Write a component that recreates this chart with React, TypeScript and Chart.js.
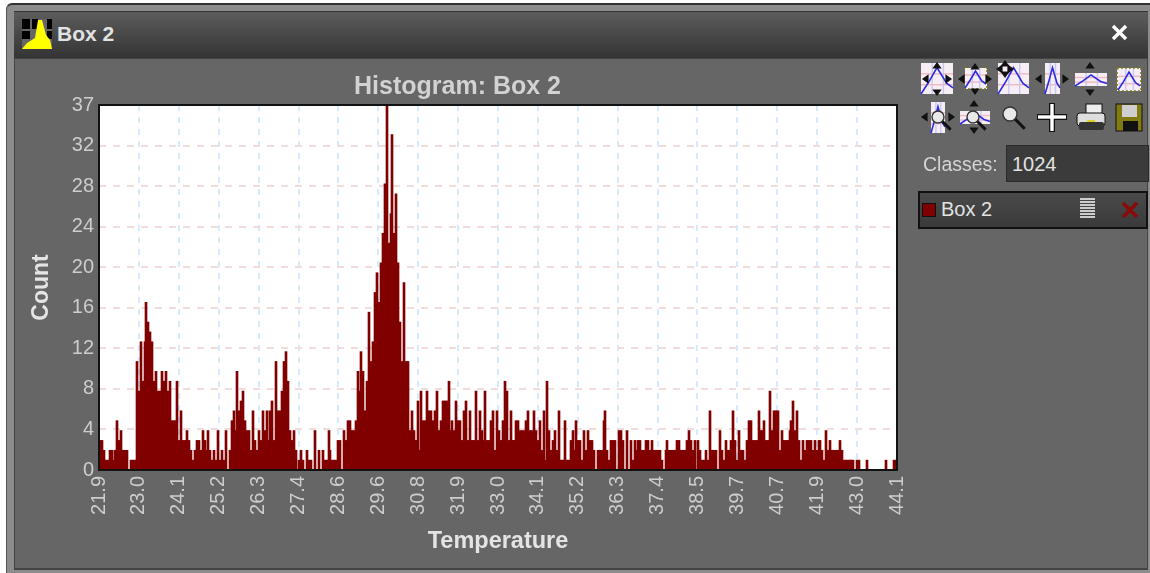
import React, { useEffect, useRef } from "react";
import { Chart, registerables } from "chart.js";

Chart.register(...registerables);

const title = "Histogram: Box 2";
const xTitle = "Temperature";
const yTitle = "Count";
const tempMin = 21.9;
const tempMax = 44.1;
const countMax = 37;
const xTickLabels = ["21.9","23.0","24.1","25.2","26.3","27.4","28.6","29.6","30.8","31.9","33.0","34.1","35.2","36.3","37.4","38.5","39.7","40.7","41.9","43.0","44.1"];
const yTickLabels = ["0","4","8","12","16","20","24","28","32","37"];

const countsLow = [3,3,2,1,1,2,2,1,2,5,3,4,2,2,2,0,1,1,1,11,8,13,9,13,17,15,14,13,9,10,8,8,10,9,10,8,9,5,5,5,9,3,6,3,3,4,3,2,1,2,3,3,2,4,3,2,4,2,1,2,1,4,1,2,1,4,0,2,5,6,4,10,6,7,8,5,4,4,2,6,3,2,4,3,6,4,6,3,6,7,3,11,6,6,8,11,12,9,4,3,4,2,0,1,2,1,0,2,1,1,0,4,0,2,0,2,1,1,4,2,1,1,1,3,3,0,4,3,5,5,4,4,5,10,8,12,10];
const countsPeak = [6,9,16,11,13,18,20,17,21,24,29,37,23,26,34,24,28,21,15,11,19,11,11,4,6,4,3,7,2,8,5,5,8,6,6,5,6,8,4,5,7,7,7,9,4,5,4,7,5,5,3,6,7,3,6,3,3,8,3,6,4,3,8,3,3,5,6,2,6,4,3,5,9,8,3,6,3,3,5,5,4,4,4,5,6,4,4,6,4,3,5,2,6,1,9,4,2,3,4,2,6,1,1,5,1,1,3,4,2,5,3,3,1,4,2,4,3,3,2,0,2,2,2,5,6,2,1,3,3,3,0,4];
const countsHigh = [4,3,0,4,0,3,1,3,2,3,3,2,2,3,3,2,3,2,2,2,2,1,0,2,3,2,2,2,2,3,3,2,2,2,3,4,3,2,3,0,3,2,1,1,2,1,6,2,2,2,0,4,2,1,3,2,2,3,6,3,1,4,2,2,1,3,5,5,3,3,3,6,4,4,5,3,3,8,4,6,6,6,2,4,3,3,3,4,5,7,4,6,3,1,3,2,3,3,3,2,3,2,3,3,2,1,4,2,3,2,2,2,2,3,2,1,1,1,1,1,1,0,1,1,0,0,0,1,0,0,0,0,0,0,0,0,0,1,0,0,0,1,1];
const counts = [...countsLow, ...countsPeak, ...countsHigh];

const gridBlue = "#d6e9fd";
const gridPink = "#f0dcdc";
const barRed = "#800000";
const tickGrey = "#cdcdcd";

const framePlugin = {
  id: "frame",
  beforeDraw(c: any) {
    const a = c.chartArea;
    c.ctx.save();
    c.ctx.fillStyle = "#ffffff";
    c.ctx.fillRect(a.left, a.top, a.width, a.height);
    c.ctx.restore();
  },
  beforeDatasetsDraw(c: any) {
    // Snap each bar the scale placed to whole pixels, so neighbours join without seams.
    c.getDatasetMeta(0).data.forEach((el: any) => {
      el.x = Math.round(el.x);
      el.width = 2;
    });
  },
  afterDraw(c: any) {
    const a = c.chartArea;
    c.ctx.save();
    c.ctx.strokeStyle = "#111111";
    c.ctx.lineWidth = 2;
    c.ctx.strokeRect(a.left, a.top, a.width, a.height);
    c.ctx.restore();
  },
};

function HistogramChart() {
  const ref = useRef<HTMLCanvasElement | null>(null);
  useEffect(() => {
    const binW = (tempMax - tempMin) / counts.length;
    const points = counts.map((y, i) => ({ x: tempMin + (i + 0.5) * binW, y }));
    const chart = new Chart(ref.current as HTMLCanvasElement, {
      type: "bar",
      data: {
        datasets: [{
          label: "Box 2",
          data: points,
          backgroundColor: barRed,
          borderWidth: 0,
          barPercentage: 1,
          categoryPercentage: 1,
        }],
      },
      options: {
        animation: false,
        responsive: false,
        parsing: { xAxisKey: "x", yAxisKey: "y" },
        layout: { padding: { left: 0, right: 83, top: 0, bottom: 0 } },
        plugins: {
          legend: { display: false },
          tooltip: { enabled: false },
          title: {
            display: true,
            text: title,
            color: "#d2d2d2",
            font: { family: "Liberation Sans", size: 25, weight: "bold" },
            padding: { top: 2, bottom: 3 },
          },
        },
        scales: {
          x: {
            type: "linear",
            offset: false,
            min: tempMin,
            max: tempMax,
            afterBuildTicks: (s: any) => {
              s.ticks = xTickLabels.map((_, i) => ({ value: tempMin + (i * (tempMax - tempMin)) / (xTickLabels.length - 1) }));
            },
            afterFit: (s: any) => { s.height = 90; s.paddingRight = 0; s.paddingLeft = 0; },
            grid: { offset: false, color: gridBlue, lineWidth: 2, drawTicks: false },
            border: { display: false, dash: [6, 6] },
            ticks: {
              autoSkip: false,
              minRotation: 90,
              maxRotation: 90,
              color: tickGrey,
              padding: 6,
              font: { family: "Liberation Sans", size: 20 },
              callback: (_v: any, i: number) => xTickLabels[i],
            },
            title: {
              display: true,
              text: xTitle,
              color: "#e4e4e4",
              font: { family: "Liberation Sans", size: 23.5, weight: "bold" },
              padding: { top: 0, bottom: 4 },
            },
          },
          y: {
            type: "linear",
            min: 0,
            max: countMax,
            afterBuildTicks: (s: any) => {
              s.ticks = yTickLabels.map((_, i) => ({ value: (i * countMax) / (yTickLabels.length - 1) }));
            },
            afterFit: (s: any) => { s.width = 81; },
            grid: { color: gridPink, lineWidth: 2, drawTicks: false },
            border: { display: false, dash: [7, 7] },
            ticks: {
              autoSkip: false,
              color: tickGrey,
              padding: 5,
              font: { family: "Liberation Sans", size: 20 },
              callback: (_v: any, i: number) => yTickLabels[i],
            },
            title: {
              display: true,
              text: yTitle,
              color: "#e4e4e4",
              font: { family: "Liberation Sans", size: 23, weight: "bold" },
              padding: { top: 10, bottom: 0 },
            },
          },
        },
      },
      plugins: [framePlugin],
    } as any);
    return () => chart.destroy();
  }, []);
  return <canvas ref={ref} width={962} height={490} style={{ position: "absolute", left: 18, top: 70, display: "block" }} />;
}

function MiniPlot({ x, y, w, h }: { x: number; y: number; w: number; h: number }) {
  return (
    <g>
      <rect x={x} y={y} width={w} height={h} fill="#f6eef4" />
      <line x1={x} x2={x + w} y1={y + h * 0.35} y2={y + h * 0.35} stroke="#f0b8c0" strokeWidth="1.4" />
      <line x1={x} x2={x + w} y1={y + h * 0.7} y2={y + h * 0.7} stroke="#f0b8c0" strokeWidth="1.4" />
      <line x1={x + w * 0.35} x2={x + w * 0.35} y1={y} y2={y + h} stroke="#c8c8f4" strokeWidth="1.4" />
      <line x1={x + w * 0.7} x2={x + w * 0.7} y1={y} y2={y + h} stroke="#c8c8f4" strokeWidth="1.4" />
      <polyline points={`${x},${y + h} ${x + w * 0.25},${y + h * 0.6} ${x + w * 0.5},${y + h * 0.15} ${x + w * 0.8},${y + h * 0.65} ${x + w},${y + h * 0.8}`} fill="none" stroke="#2a2ae0" strokeWidth="1.6" />
    </g>
  );
}

function Arrows({ cx, cy, rx, ry }: { cx: number; cy: number; rx: number; ry: number }) {
  return (
    <g stroke="#111" fill="#111" strokeWidth="1.2">
      {rx > 0 && <polygon points={`${cx - rx - 2},${cy} ${cx - rx + 3},${cy - 3.5} ${cx - rx + 3},${cy + 3.5}`} />}
      {rx > 0 && <polygon points={`${cx + rx + 2},${cy} ${cx + rx - 3},${cy - 3.5} ${cx + rx - 3},${cy + 3.5}`} />}
      {ry > 0 && <polygon points={`${cx},${cy - ry - 2} ${cx - 3.5},${cy - ry + 3} ${cx + 3.5},${cy - ry + 3}`} />}
      {ry > 0 && <polygon points={`${cx},${cy + ry + 2} ${cx - 3.5},${cy + ry - 3} ${cx + 3.5},${cy + ry - 3}`} />}
    </g>
  );
}

function Lens({ cx, cy, r }: { cx: number; cy: number; r: number }) {
  return (
    <g>
      <line x1={cx + r * 0.7} y1={cy + r * 0.7} x2={cx + r * 2.1} y2={cy + r * 2.1} stroke="#111" strokeWidth="3" />
      <circle cx={cx} cy={cy} r={r} fill="#e8e8e8" stroke="#333" strokeWidth="1.4" />
    </g>
  );
}

function Toolbar() {
  return (
    <svg width={240} height={90} style={{ position: "absolute", left: 910, top: 55 }}>
      <MiniPlot x={11} y={8} w={32} h={31} />
      <Arrows cx={27} cy={24} rx={12} ry={0} />
      <Arrows cx={27} cy={24} rx={0} ry={14} />
      <rect x={55} y={13} width={22} height={21} fill="#f6eef4" stroke="#7a7a20" strokeWidth="1.6" strokeDasharray="2 2" />
      <MiniPlot x={55} y={13} w={21} h={20} />
      <Arrows cx={65} cy={24} rx={14} ry={13} />
      <MiniPlot x={88} y={8} w={31} h={31} />
      <Arrows cx={95} cy={14} rx={6} ry={6} />
      <MiniPlot x={135} y={8} w={15} h={31} />
      <Arrows cx={142} cy={24} rx={14} ry={0} />
      <MiniPlot x={165} y={18} w={32} h={13} />
      <Arrows cx={180} cy={24} rx={0} ry={14} />
      <rect x={207} y={13} width={24} height={23} fill="#f6eef4" stroke="#7a7a20" strokeWidth="1.6" strokeDasharray="2 2" />
      <MiniPlot x={208} y={14} w={22} h={21} />

      <MiniPlot x={21} y={47} w={14} h={31} />
      <Arrows cx={28} cy={62} rx={14} ry={0} />
      <Lens cx={28} cy={62} r={6} />
      <MiniPlot x={50} y={56} w={30} h={13} />
      <Arrows cx={64} cy={62} rx={0} ry={14} />
      <Lens cx={63} cy={62} r={6} />
      <Lens cx={100} cy={59} r={7} />
      <line x1={142} x2={142} y1={48} y2={77} stroke="#111" strokeWidth="6" />
      <line x1={127} x2={157} y1={62} y2={62} stroke="#111" strokeWidth="6" />
      <line x1={142} x2={142} y1={49} y2={76} stroke="#fff" strokeWidth="3.4" />
      <line x1={128} x2={156} y1={62} y2={62} stroke="#fff" strokeWidth="3.4" />
      <rect x={176} y={49} width={16} height={10} fill="#eee" stroke="#111" />
      <rect x={167} y={58} width={28} height={13} rx={3} fill="#ddd" stroke="#111" />
      <rect x={169} y={67} width={25} height={8} rx={2} fill="#333" />
      <rect x={177} y={65} width={8} height={2} fill="#e0d020" />
      <rect x={206} y={49} width={26} height={27} fill="#807a10" stroke="#111" />
      <rect x={212} y={50} width={15} height={12} fill="#cfcfcf" />
      <rect x={213} y={66} width={15} height={10} fill="#111" />
    </svg>
  );
}

export default function App() {
  const font = "'Liberation Sans', sans-serif";
  return (
    <div style={{ position: "absolute", left: 0, top: 0, width: 1150, height: 573, background: "#ffffff", overflow: "hidden", fontFamily: font, filter: "blur(0.45px)" }}>
      <div style={{ position: "absolute", left: 6, top: 3, width: 1150, height: 570, background: "#8c8c8c", borderTop: "2px solid #333", borderLeft: "1px solid #555", borderTopLeftRadius: 6, boxSizing: "border-box" }} />
      <div style={{ position: "absolute", left: 14, top: 11, width: 1134, height: 559, background: "#666666", borderLeft: "1px solid #444", borderRight: "1px solid #444", borderBottom: "2px solid #444", boxSizing: "border-box" }} />
      <div style={{ position: "absolute", left: 14, top: 11, width: 1134, height: 48, background: "linear-gradient(#5c5c5c,#343434)", borderTop: "1px solid #333", borderBottom: "1px solid #444", boxSizing: "border-box" }} />
      <svg width={34} height={34} style={{ position: "absolute", left: 20, top: 17 }}>
        <rect x={2} y={2} width={30} height={30} fill="#666" />
        <g fill="#000">
          <rect x={2} y={2} width={8} height={10} /><rect x={12} y={2} width={6} height={10} /><rect x={27} y={2} width={5} height={10} />
          <rect x={2} y={14} width={8} height={8} /><rect x={27} y={14} width={5} height={8} />
        </g>
        <polygon points="2,32 7,26 15,21 18,3 22,3 26,18 30,23 32,32" fill="#ffff00" />
      </svg>
      <div style={{ position: "absolute", left: 57, top: 22, fontSize: 21, fontWeight: "bold", color: "#e2e2e2", whiteSpace: "nowrap" }}>Box 2</div>
      <svg width={20} height={20} style={{ position: "absolute", left: 1110, top: 23 }}>
        <path d="M3 3 L16 16 M16 3 L3 16" stroke="#fff" strokeWidth="3.4" />
      </svg>
      <HistogramChart />
      <Toolbar />
      <div style={{ position: "absolute", left: 923, top: 153, fontSize: 19.5, color: "#d4d4d4", whiteSpace: "nowrap" }}>Classes:</div>
      <div style={{ position: "absolute", left: 1006, top: 145, width: 143, height: 37, background: "#3b3b3b", border: "1px solid #2a2a2a", boxSizing: "border-box", color: "#e2e2e2", fontSize: 20, lineHeight: "36px", paddingLeft: 5 }}>1024</div>
      <div style={{ position: "absolute", left: 918, top: 191, width: 230, height: 38, background: "linear-gradient(#4a4a4a,#3a3a3a)", border: "2px solid #111", boxSizing: "border-box" }} />
      <div style={{ position: "absolute", left: 922, top: 203, width: 14, height: 14, background: "#800000", border: "1px solid #111", boxSizing: "border-box" }} />
      <div style={{ position: "absolute", left: 941, top: 198, fontSize: 20, color: "#e2e2e2", whiteSpace: "nowrap" }}>Box 2</div>
      <svg width={20} height={26} style={{ position: "absolute", left: 1078, top: 197 }}>
        {[2, 5, 8, 11, 14, 17, 20].map((y) => <line key={y} x1={2} x2={17} y1={y} y2={y} stroke="#f0f0f0" strokeWidth="1.6" />)}
      </svg>
      <svg width={22} height={22} style={{ position: "absolute", left: 1119, top: 199 }}>
        <path d="M4 4 L18 18 M18 4 L4 18" stroke="#8a0a0a" strokeWidth="3.6" />
      </svg>
    </div>
  );
}
